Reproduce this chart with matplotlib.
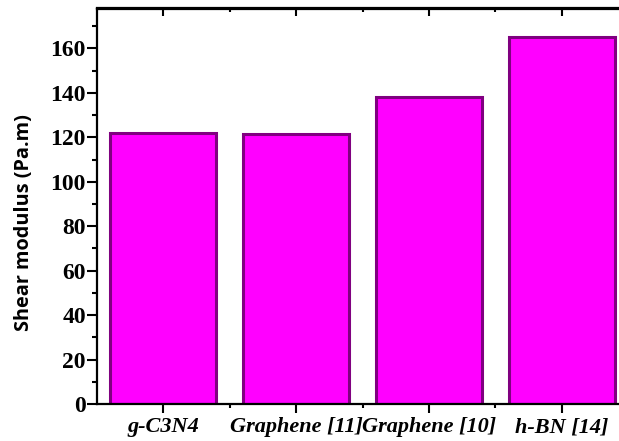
import matplotlib
matplotlib.use("Agg")
import matplotlib.pyplot as plt
from matplotlib.ticker import MultipleLocator, FixedLocator

categories = ["g-C3N4", "Graphene [11]", "Graphene [10]", "h-BN [14]"]
values = [122, 121.5, 138, 165]
yticks = [0, 20, 40, 60, 80, 100, 120, 140, 160]

W, H = 619, 441
fig = plt.figure(figsize=(W / 100, H / 100), dpi=100)
left, right, top, bottom = 97, 628, 8.5, 404
ax = fig.add_axes([left / W, 1 - bottom / H, (right - left) / W, (bottom - top) / H])

x = list(range(1, len(categories) + 1))
ax.bar(x, values, width=0.8, color="#FF00FF", edgecolor="#800080", linewidth=2.2, zorder=2)

ax.set_xlim(0.5, 4.5)
ax.set_ylim(0, 178)
ax.set_yticks(yticks)
ax.yaxis.set_minor_locator(MultipleLocator(10))
ax.set_xticks(x)
ax.set_xticklabels(categories)
ax.xaxis.set_minor_locator(FixedLocator([1.5, 2.5, 3.5]))

for s in ["left", "bottom", "top"]:
    ax.spines[s].set_linewidth(1.6)
ax.spines["right"].set_visible(False)

ax.tick_params(axis="y", which="major", direction="out", length=7, width=1.5, pad=1,
               labelsize=17)
ax.tick_params(axis="y", which="minor", direction="out", length=3.5, width=1.5)
ax.tick_params(axis="x", which="major", direction="out", length=6.5, width=1.5, pad=3,
               labelsize=16, top=False)
ax.tick_params(axis="x", which="minor", direction="out", length=3, width=1.5, top=False)

for lab in ax.get_yticklabels():
    lab.set_fontfamily("Liberation Serif")
    lab.set_fontweight("bold")
for lab in ax.get_xticklabels():
    lab.set_fontfamily("Liberation Serif")
    lab.set_fontweight("bold")
    lab.set_fontstyle("italic")

# top ticks pointing inward
sec = ax.secondary_xaxis("top")
sec.set_xticks(x)
sec.set_xticklabels([])
sec.xaxis.set_minor_locator(FixedLocator([1.5, 2.5, 3.5]))
sec.tick_params(axis="x", which="major", direction="in", length=6, width=1.5)
sec.tick_params(axis="x", which="minor", direction="in", length=3, width=1.5)
sec.spines["top"].set_linewidth(1.6)

fig.text(24 / W, 1 - 223 / H, "Shear modulus (Pa.m)", rotation=90, ha="center", va="center",
         fontsize=14.3, fontweight="bold", fontfamily="Open Sans")

fig.savefig("out.png", dpi=100)
